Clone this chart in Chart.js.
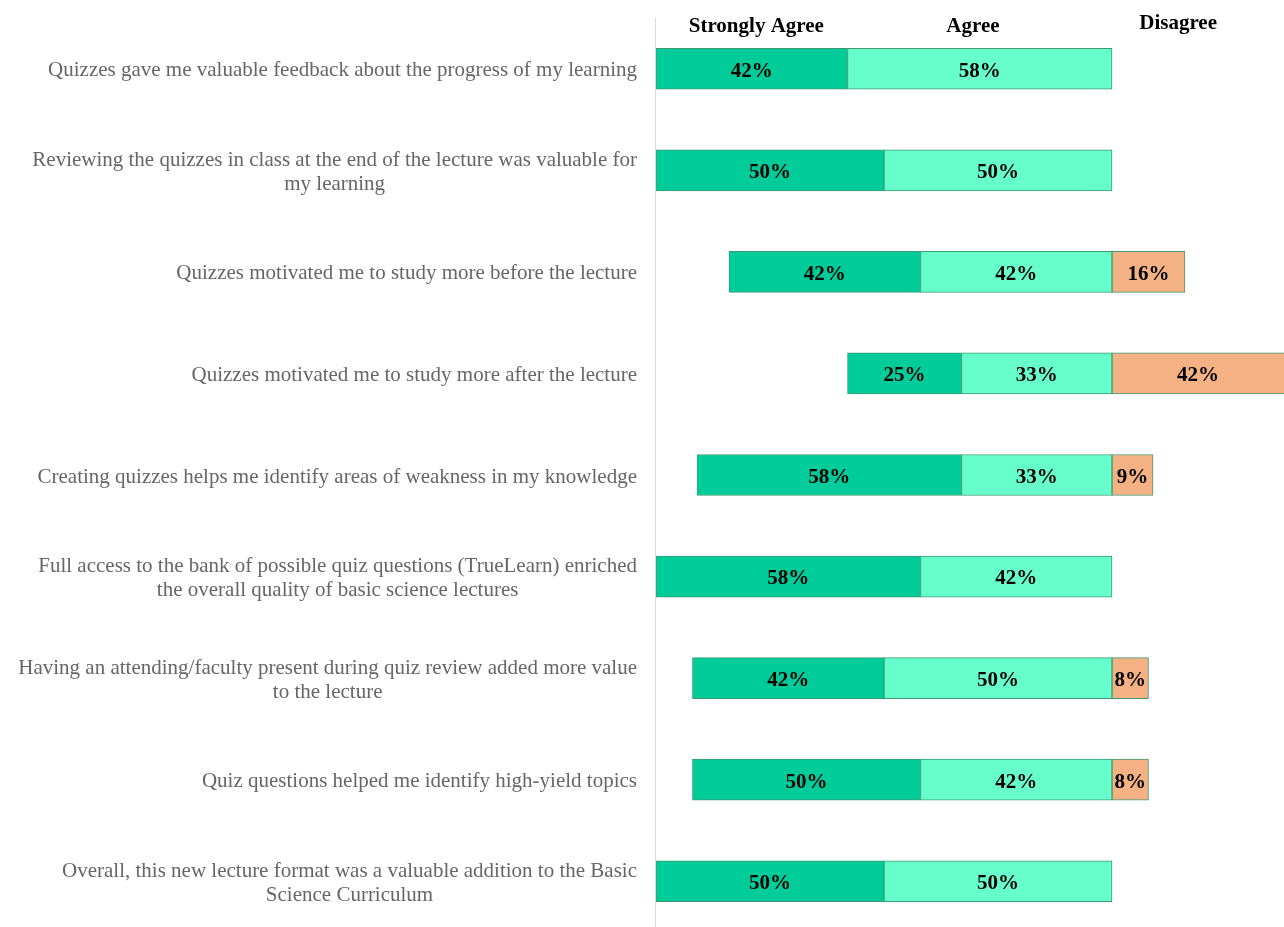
<!DOCTYPE html>
<html>
<head>
<meta charset="utf-8">
<script src="https://cdn.jsdelivr.net/npm/chart.js@4/dist/chart.umd.min.js"></script>
<style>
  html, body { margin: 0; padding: 0; background: #fff; }
  #wrap { width: 1284px; height: 927px; overflow: hidden; }
</style>
</head>
<body>
<div id="wrap"><canvas id="myChart" width="1284" height="932"></canvas></div>
<script>
// survey statements (multi-line where the original wraps)
const statements = [
    ["Quizzes gave me valuable feedback about the progress of my learning"],
    ["Reviewing the quizzes in class at the end of the lecture was valuable for", "my learning"],
    ["Quizzes motivated me to study more before the lecture"],
    ["Quizzes motivated me to study more after the lecture"],
    ["Creating quizzes helps me identify areas of weakness in my knowledge"],
    ["Full access to the bank of possible quiz questions (TrueLearn) enriched", "the overall quality of basic science lectures"],
    ["Having an attending/faculty present during quiz review added more value", "to the lecture"],
    ["Quiz questions helped me identify high-yield topics"],
    ["Overall, this new lecture format was a valuable addition to the Basic", "Science Curriculum"]
];

const stronglyAgree = [42, 50, 42, 25, 58, 58, 42, 50, 50];
const agree         = [58, 50, 42, 33, 33, 42, 50, 42, 50];
const disagree      = [0, 0, 16, 42, 9, 0, 8, 8, 0];

const seriesNames = ["Strongly Agree", "Agree", "Disagree"];

// diverging layout: agree side goes left of zero, disagree to the right
const saBars = stronglyAgree.map((v, i) => [-(v + agree[i]), -agree[i]]);
const aBars  = agree.map(v => [-v, 0]);
const dBars  = disagree.map(v => [0, v]);

const FONT = "'Liberation Serif', 'Times New Roman', serif";

const labelPlugin = {
    id: "labelPlugin",
    afterDatasetsDraw(chart, args, opts) {
        const ctx = chart.ctx;
        const area = chart.chartArea;
        const yScale = chart.scales.y;
        const xScale = chart.scales.x;
        ctx.save();

        // left axis line
        ctx.strokeStyle = "#d9d9d9";
        ctx.lineWidth = 1;
        ctx.beginPath();
        ctx.moveTo(area.left - 0.5, area.top);
        ctx.lineTo(area.left - 0.5, chart.height);
        ctx.stroke();

        // statements on the left, block right aligned, lines centered
        ctx.font = "21px " + FONT;
        ctx.fillStyle = "#666666";
        ctx.textAlign = "center";
        ctx.textBaseline = "middle";
        statements.forEach((lines, i) => {
            const y = yScale.getPixelForValue(i) + 2;
            const w = Math.max(...lines.map(l => ctx.measureText(l).width));
            const cx = area.left - 19 - w / 2;
            const lh = 24;
            lines.forEach((l, k) => {
                ctx.fillText(l, cx, y + (k - (lines.length - 1) / 2) * lh);
            });
        });

        // column headers
        ctx.font = "bold 21px " + FONT;
        ctx.fillStyle = "#000";
        opts.headers.forEach((h, k) => {
            ctx.fillText(seriesNames[k], xScale.getPixelForValue(h.at), h.y);
        });

        // value labels inside bars
        ctx.font = "bold 21px " + FONT;
        const vals = [stronglyAgree, agree, disagree];
        chart.data.datasets.forEach((ds, d) => {
            chart.getDatasetMeta(d).data.forEach((el, i) => {
                const v = vals[d][i];
                if (!v) return;
                const p = el.getProps(["x", "base", "y"], true);
                const a = Math.max(Math.min(p.x, p.base), area.left);
                const b = Math.min(Math.max(p.x, p.base), area.right);
                ctx.fillText(v + "%", (a + b) / 2, p.y + 2.5);
            });
        });
        ctx.restore();
    }
};

const ctx = document.getElementById("myChart").getContext("2d");
const myChart = new Chart(ctx, {
    type: "bar",
    data: {
        labels: statements.map(s => s.join(" ")),
        datasets: [
            { label: seriesNames[0], data: saBars, backgroundColor: "#00CC99" },
            { label: seriesNames[1], data: aBars, backgroundColor: "#66FFCC" },
            { label: seriesNames[2], data: dBars, backgroundColor: "#F4B183" }
        ]
    },
    options: {
        indexAxis: "y",
        responsive: false,
        animation: false,
        devicePixelRatio: 1,
        datasets: {
            bar: {
                grouped: false,
                barThickness: 41,
                borderColor: "#3E9A72",
                borderWidth: 1,
                borderSkipped: false
            }
        },
        layout: { padding: { left: 656, right: 0, top: 18, bottom: 0 } },
        scales: {
            x: { display: false, min: -100, max: 37.72 },
            y: { display: false }
        },
        plugins: {
            legend: { display: false },
            tooltip: { enabled: false },
            labelPlugin: {
                headers: [
                    { at: -78, y: 27 },
                    { at: -30.5, y: 27 },
                    { at: 14.5, y: 24 }
                ]
            }
        }
    },
    plugins: [labelPlugin]
});
</script>
</body>
</html>
